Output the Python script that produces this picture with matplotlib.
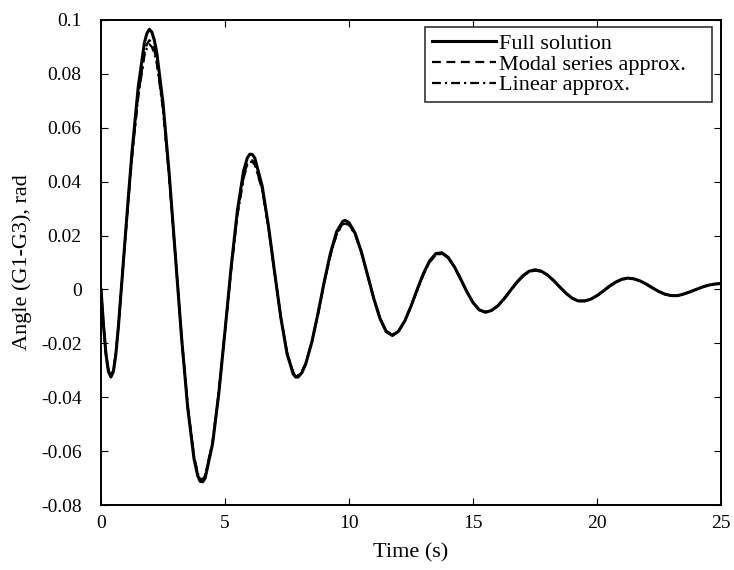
import numpy as np
import matplotlib
matplotlib.use('Agg')
import matplotlib.pyplot as plt
from matplotlib.ticker import FuncFormatter

plt.rcParams['font.family'] = ['Liberation Serif', 'DejaVu Serif']
plt.rcParams['axes.unicode_minus'] = False

# tiempo (s)
tiempo = [0.0, 0.1, 0.2, 0.3, 0.4, 0.5, 0.6, 0.7, 0.8, 0.9,
          1.0, 1.1, 1.25, 1.5, 1.75, 1.85, 1.95, 2.05, 2.15, 2.25,
          2.5, 2.75, 3.0, 3.25, 3.5, 3.75, 3.9, 4.0, 4.1, 4.2,
          4.5, 4.75, 5.0, 5.25, 5.5, 5.75, 5.9, 6.0, 6.1, 6.2,
          6.5, 6.75, 7.0, 7.25, 7.5, 7.75, 7.85, 7.95, 8.1, 8.25,
          8.5, 8.75, 9.0, 9.25, 9.5, 9.75, 9.85, 10.0, 10.25, 10.5,
          10.75, 11.0, 11.25, 11.5, 11.75, 12.0, 12.25, 12.5, 12.75, 13.0,
          13.25, 13.5, 13.75, 14.0, 14.25, 14.5, 14.75, 15.0, 15.25, 15.5,
          15.75, 16.0, 16.25, 16.5, 16.75, 17.0, 17.25, 17.5, 17.75, 18.0,
          18.25, 18.5, 18.75, 19.0, 19.25, 19.5, 19.75, 20.0, 20.25, 20.5,
          20.75, 21.0, 21.25, 21.5, 21.75, 22.0, 22.25, 22.5, 22.75, 23.0,
          23.25, 23.5, 23.75, 24.0, 24.25, 24.5, 24.75, 25.0]

# solucion completa
full_sol = [0.0, -0.013, -0.024, -0.0305, -0.0325, -0.0305, -0.024, -0.014, -0.002, 0.010,
            0.022, 0.034, 0.051, 0.075, 0.0915, 0.095, 0.0965, 0.0955, 0.0925, 0.0878,
            0.0692, 0.0429, 0.0125, -0.018, -0.0442, -0.0628, -0.0692, -0.0712, -0.0714, -0.070,
            -0.0572, -0.0386, -0.0154, 0.0085, 0.0293, 0.044, 0.0488, 0.0502, 0.0501, 0.0488,
            0.0383, 0.0237, 0.0064, -0.0104, -0.0238, -0.0314, -0.0325, -0.0325, -0.0309, -0.0278,
            -0.0196, -0.0089, 0.0028, 0.0134, 0.0214, 0.0253, 0.0256, 0.0248, 0.0208, 0.0139,
            0.0053, -0.0034, -0.0108, -0.0157, -0.0171, -0.0155, -0.0117, -0.0062, 0.0, 0.0059,
            0.0106, 0.0133, 0.0136, 0.0119, 0.0084, 0.0039, -0.0008, -0.0049, -0.0076, -0.0085,
            -0.0078, -0.0061, -0.0035, -0.0005, 0.0025, 0.005, 0.0067, 0.0073, 0.0068, 0.0054,
            0.0033, 0.0009, -0.0014, -0.0033, -0.0043, -0.0043, -0.0036, -0.0023, -0.0006, 0.0012,
            0.0027, 0.0038, 0.0042, 0.0039, 0.0031, 0.0019, 0.0005, -0.0008, -0.0018, -0.0023,
            -0.0023, -0.0017, -0.0009, 0.0, 0.0009, 0.0016, 0.002, 0.0022]

# aproximacion serie modal
modal = [0.0, -0.013, -0.024, -0.0302, -0.032, -0.0302, -0.0238, -0.0138, -0.002, 0.0098,
         0.0215, 0.033, 0.0495, 0.072, 0.0875, 0.091, 0.0925, 0.0915, 0.0888, 0.0848,
         0.0675, 0.042, 0.0122, -0.0178, -0.0438, -0.0622, -0.0686, -0.0706, -0.0708, -0.0695,
         -0.0568, -0.0384, -0.0155, 0.0078, 0.0278, 0.0418, 0.0468, 0.048, 0.0479, 0.0468,
         0.0372, 0.0232, 0.0062, -0.0103, -0.0235, -0.031, -0.0321, -0.0321, -0.0306, -0.0276,
         -0.0196, -0.009, 0.0025, 0.0128, 0.0206, 0.0245, 0.0247, 0.0241, 0.0204, 0.0137,
         0.0052, -0.0034, -0.0107, -0.0155, -0.0169, -0.0154, -0.0117, -0.0063, -0.0002, 0.0056,
         0.0102, 0.0129, 0.0133, 0.0117, 0.0083, 0.0039, -0.0008, -0.0048, -0.0075, -0.0084,
         -0.0078, -0.0061, -0.0036, -0.0006, 0.0023, 0.0048, 0.0065, 0.0071, 0.0067, 0.0053,
         0.0033, 0.0009, -0.0014, -0.0032, -0.0042, -0.0043, -0.0036, -0.0023, -0.0007, 0.0011,
         0.0026, 0.0037, 0.0041, 0.0039, 0.0031, 0.0019, 0.0005, -0.0008, -0.0018, -0.0023,
         -0.0023, -0.0017, -0.0009, 0.0, 0.0009, 0.0016, 0.002, 0.0022]

# aproximacion lineal
lineal = [0.0, -0.0128, -0.0236, -0.03, -0.0318, -0.03, -0.0236, -0.0137, -0.002, 0.0096,
          0.0212, 0.0326, 0.049, 0.0712, 0.0868, 0.0895, 0.091, 0.090, 0.0875, 0.0838,
          0.0668, 0.0416, 0.0122, -0.0176, -0.0435, -0.0618, -0.0682, -0.0702, -0.0704, -0.0691,
          -0.0565, -0.0382, -0.0155, 0.0076, 0.0274, 0.0412, 0.0462, 0.0474, 0.0473, 0.0463,
          0.0369, 0.0231, 0.0062, -0.0102, -0.0233, -0.0308, -0.0319, -0.0319, -0.0304, -0.0275,
          -0.0195, -0.009, 0.0024, 0.0126, 0.0203, 0.0242, 0.0244, 0.0239, 0.0203, 0.0137,
          0.0052, -0.0034, -0.0106, -0.0154, -0.0168, -0.0153, -0.0117, -0.0063, -0.0002, 0.0055,
          0.0101, 0.0128, 0.0132, 0.0116, 0.0083, 0.0039, -0.0008, -0.0048, -0.0075, -0.0083,
          -0.0077, -0.0061, -0.0036, -0.0006, 0.0023, 0.0047, 0.0064, 0.007, 0.0066, 0.0053,
          0.0033, 0.0009, -0.0014, -0.0032, -0.0042, -0.0042, -0.0036, -0.0023, -0.0007, 0.0011,
          0.0026, 0.0037, 0.0041, 0.0039, 0.0031, 0.0019, 0.0005, -0.0008, -0.0018, -0.0023,
          -0.0023, -0.0017, -0.0009, 0.0, 0.0009, 0.0016, 0.002, 0.0022]

yticks = [-0.08, -0.06, -0.04, -0.02, 0.0, 0.02, 0.04, 0.06, 0.08, 0.1]
xticks = [0, 5, 10, 15, 20, 25]

fig = plt.figure(figsize=(7.34, 5.70), dpi=100)
ax = fig.add_axes([0.1376, 0.114, 0.8447, 0.851])

ax.plot(tiempo, full_sol, color='black', lw=2.2, ls='-', label='Full solution')
ax.plot(tiempo, modal, color='black', lw=1.6, ls=(0, (4, 2.5)), label='Modal series approx.')
ax.plot(tiempo, lineal, color='black', lw=1.6, ls=(0, (4, 1.8, 1, 1.8)), label='Linear approx.')

ax.set_xlim(0, 25)
ax.set_ylim(-0.08, 0.1)
ax.set_xticks(xticks)
ax.set_yticks(yticks)
ax.yaxis.set_major_formatter(FuncFormatter(lambda v, p: '%g' % (round(v, 4) + 0.0)))
ax.tick_params(direction='in', top=True, right=True, length=5, width=0.8, labelsize=14)
ax.tick_params(axis='y', pad=14)
ax.tick_params(axis='x', pad=7)
for s in ax.spines.values():
    s.set_linewidth(1.4)

ax.set_xlabel('Time (s)', fontsize=16, labelpad=8)
ax.set_ylabel('Angle (G1-G3), rad', fontsize=16, labelpad=6)

# leyenda estilo matlab, caja mas ancha que el texto
leg = ax.legend(loc='upper left', bbox_to_anchor=(425 / 734, 0.5, 287 / 734, 1 - 27 / 570 - 0.5),
                bbox_transform=fig.transFigure, mode='expand',
                fontsize=16, frameon=True, fancybox=False,
                handlelength=2.9, handletextpad=0.15, borderaxespad=0.0,
                borderpad=0.3, labelspacing=0.0)
leg.get_frame().set_edgecolor('black')
leg.get_frame().set_linewidth(1.2)

fig.savefig('out.png', dpi=100)
